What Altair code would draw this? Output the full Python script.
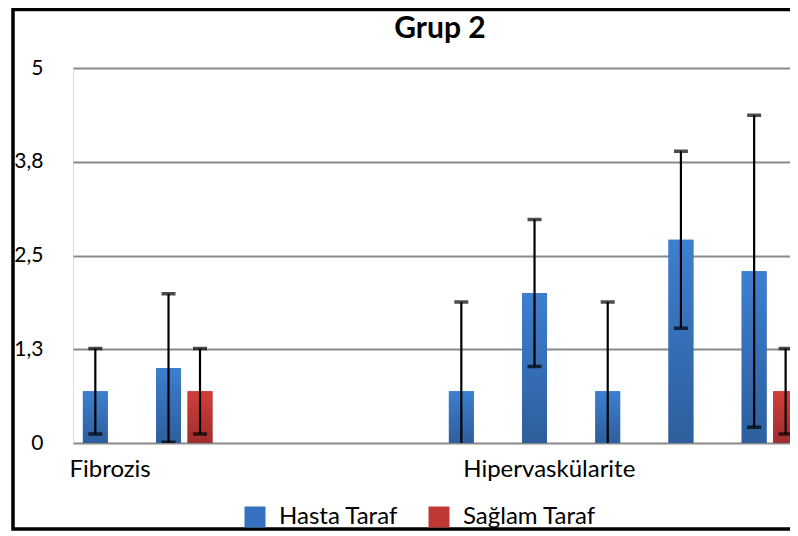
import altair as alt
import pandas as pd

# ---- data ----
cat_index = list(range(10))
cat_labels = ["Fibrozis", "", "", "", "", "", "Hipervaskülarite", "", "", ""]
series_names = ["Hasta Taraf", "Sağlam Taraf"]
hasta_mean = [0.69, 1.0, None, None, None, 0.69, 2.0, 0.69, 2.71, 2.29]
hasta_err = [0.57, 0.99, None, None, None, 1.19, 0.98, 1.19, 1.18, 2.08]
saglam_mean = [None, 0.69, None, None, None, None, None, None, None, 0.69]
saglam_err = [None, 0.57, None, None, None, None, None, None, None, 0.57]
y_ticks = [0, 1.25, 2.5, 3.75, 5]
x_label_pos = [0.5, 6.5]
chart_title = "Grup 2"

rows = []
for s, means, errs in [(series_names[0], hasta_mean, hasta_err),
                       (series_names[1], saglam_mean, saglam_err)]:
    for c, m, e in zip(cat_index, means, errs):
        if m is not None:
            rows.append({"cat": c, "series": s, "mean": m, "err": e})
df = pd.DataFrame(rows)

BLUE, RED = "#3670c0", "#c03834"
blue_grad = alt.Gradient(gradient="linear", x1=0, x2=0, y1=0, y2=1,
                         stops=[alt.GradientStop(color="#3d7fd0", offset=0),
                                alt.GradientStop(color="#2e5e9c", offset=1)])
red_grad = alt.Gradient(gradient="linear", x1=0, x2=0, y1=0, y2=1,
                        stops=[alt.GradientStop(color="#d23e3a", offset=0),
                               alt.GradientStop(color="#9e2e2d", offset=1)])

label_js = "[" + ",".join("'" + l + "'" for l in cat_labels) + "]"

xscale = alt.Scale(domain=[0, 9.795], nice=False, zero=False)
yscale = alt.Scale(domain=[0, 5], nice=False)

base = alt.Chart(df).transform_calculate(
    x0="datum.cat + (datum.series == 'Hasta Taraf' ? 0.135 : 0.565)",
    x1="datum.cat + (datum.series == 'Hasta Taraf' ? 0.475 : 0.905)",
    xc="datum.cat + (datum.series == 'Hasta Taraf' ? 0.305 : 0.735)",
    lo="datum.mean - datum.err",
    hi="datum.mean + datum.err",
)

x_axis = alt.Axis(values=x_label_pos, labelExpr=label_js + "[floor(datum.value)]",
                  domain=False, ticks=False, grid=False, labelFontSize=24,
                  labelFont="Lato", labelColor="black", labelPadding=14,
                  labelFlush=False, labelOverlap=False, title=None)
y_axis = alt.Axis(values=y_ticks,
                  labelExpr="replace(format(datum.value, '.1~f'), '.', ',')",
                  domain=False, ticks=False, grid=True, gridColor="#8a8a8a",
                  gridWidth=2, labelFontSize=21, labelFont="Lato",
                  labelColor="black", labelPadding=30, labelFlush=False,
                  title=None)

bars_legend = base.mark_bar(clip=True).encode(
    x=alt.X("x0:Q", scale=xscale, axis=x_axis),
    x2="x1:Q",
    y=alt.Y("mean:Q", scale=yscale, axis=y_axis),
    y2=alt.datum(0),
    color=alt.Color("series:N",
                    scale=alt.Scale(domain=series_names, range=[BLUE, RED]),
                    legend=alt.Legend(title=None, orient="none", legendX=170,
                                      legendY=437, direction="horizontal",
                                      symbolType="square", symbolSize=441,
                                      symbolStrokeWidth=0, labelFontSize=24,
                                      labelFont="Lato", labelColor="black",
                                      labelOffset=12, columnPadding=28,
                                      padding=0)),
)

bars_blue = base.transform_filter(f"datum.series == '{series_names[0]}'").mark_bar(
    clip=True, color=blue_grad).encode(x="x0:Q", x2="x1:Q", y="mean:Q", y2=alt.datum(0))
bars_red = base.transform_filter(f"datum.series == '{series_names[1]}'").mark_bar(
    clip=True, color=red_grad).encode(x="x0:Q", x2="x1:Q", y="mean:Q", y2=alt.datum(0))

err_rule = base.mark_rule(clip=True, color="black", strokeWidth=2.2).encode(
    x="xc:Q", y="lo:Q", y2="hi:Q")
cap_hi = base.mark_tick(clip=True, color="black", orient="horizontal",
                        size=14, thickness=3.5).encode(x="xc:Q", y="hi:Q")
cap_lo = base.mark_tick(clip=True, color="black", orient="horizontal",
                        size=14, thickness=3.5).encode(x="xc:Q", y="lo:Q")

frame = alt.Chart(pd.DataFrame({"f": [0]})).mark_rect(
    fillOpacity=0, stroke="black", strokeWidth=3.5).encode(
    x=alt.value(-60), x2=alt.value(780), y=alt.value(-58.5), y2=alt.value(461))

title_text = alt.Chart(pd.DataFrame({"t": [chart_title]})).mark_text(
    font="Lato", fontSize=30, fontWeight="bold", color="black",
    align="center", baseline="alphabetic").encode(
    text="t:N", x=alt.value(367), y=alt.value(-30))

chart = alt.layer(bars_legend, bars_blue, bars_red, err_rule, cap_hi, cap_lo,
                  frame, title_text).properties(
    width=717, height=375,
    autosize=alt.AutoSizeParams(type="none"),
    padding={"left": 65, "top": 60, "right": 0, "bottom": 89},
).configure_view(stroke=None).configure(background="white")

chart.save("out.html", embed_options={"renderer": "svg", "actions": False})
